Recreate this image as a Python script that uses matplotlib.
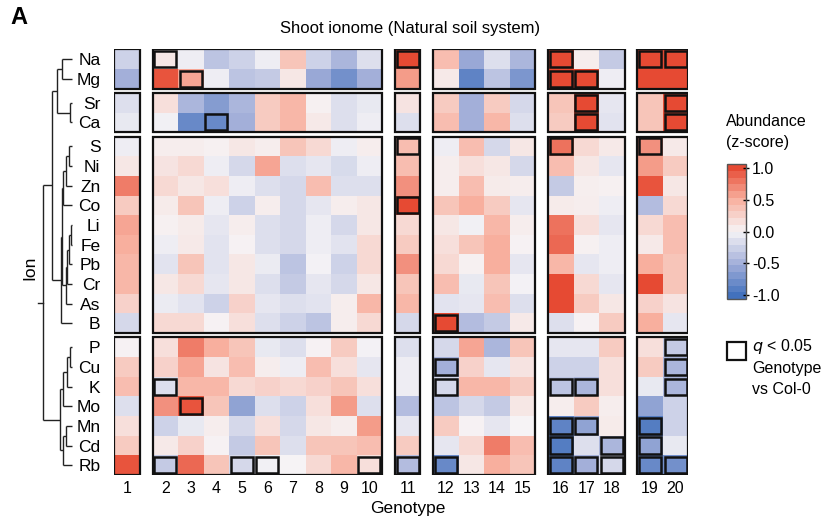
import numpy as np
import matplotlib
matplotlib.use('Agg')
import matplotlib.pyplot as plt
from matplotlib.colors import LinearSegmentedColormap, Normalize
from matplotlib.patches import Rectangle
from matplotlib.cm import ScalarMappable

plt.rcParams['font.family'] = ['Liberation Sans', 'DejaVu Sans']

# ---------------- data ----------------
ions = ['Na', 'Mg', 'Sr', 'Ca', 'S', 'Ni', 'Zn', 'Co', 'Li', 'Fe', 'Pb', 'Cr',
        'As', 'B', 'P', 'Cu', 'K', 'Mo', 'Mn', 'Cd', 'Rb']
genotypes = [str(i) for i in range(1, 21)]

#       1     2     3     4     5     6     7     8     9     10    11    12    13    14    15    16    17    18    19    20
na = [-0.25, 0.10, -0.05, -0.35, -0.25, -0.05, 0.35, -0.25, -0.45, -0.15, 1.00, 0.40, -0.55, -0.15, -0.45, 1.00, 0.05, -0.30, 1.00, 1.00]
mg = [-0.50, 0.95, 0.55, -0.05, -0.35, -0.30, 0.10, -0.55, -0.75, -0.50, 0.60, 0.08, -0.85, -0.35, -0.70, 1.00, 1.00, -0.05, 1.00, 1.00]
sr = [-0.15, 0.15, -0.45, -0.65, -0.45, 0.30, 0.45, 0.03, -0.15, -0.08, 0.12, 0.30, -0.50, 0.30, -0.20, 0.35, 1.00, -0.10, 0.35, 1.00]
ca = [-0.08, -0.03, -0.80, -0.80, -0.50, 0.30, 0.45, 0.08, -0.15, -0.05, -0.15, 0.40, -0.50, 0.45, -0.15, 0.30, 1.00, -0.12, 0.35, 1.00]
s_ = [-0.05, 0.05, 0.05, 0.03, 0.10, 0.05, 0.35, 0.20, -0.05, 0.05, 0.40, -0.05, 0.40, -0.20, 0.10, 0.80, 0.20, 0.08, 0.65, 0.08]
ni = [0.10, 0.12, 0.20, -0.05, -0.20, 0.55, -0.15, -0.10, -0.18, -0.05, 0.40, 0.05, 0.15, 0.10, -0.20, 0.40, 0.10, -0.10, 0.60, 0.30]
zn = [0.75, 0.20, 0.10, 0.15, -0.05, -0.15, -0.20, 0.40, -0.15, -0.15, 0.65, 0.05, 0.40, 0.07, 0.05, -0.30, 0.04, 0.03, 0.95, 0.10]
co = [0.30, 0.07, 0.35, -0.05, -0.25, 0.05, -0.20, -0.10, 0.05, 0.10, 1.00, 0.35, 0.50, 0.30, -0.10, 0.07, 0.05, -0.05, -0.40, 0.20]
li = [0.55, 0.03, 0.07, -0.10, 0.05, -0.15, -0.20, -0.05, -0.20, 0.10, 0.20, 0.10, -0.03, 0.45, 0.05, 0.80, 0.15, -0.10, 0.20, 0.40]
fe = [0.50, -0.05, 0.08, -0.12, 0.02, -0.15, -0.20, -0.05, -0.12, 0.20, 0.30, 0.15, 0.35, 0.50, 0.02, 0.85, 0.03, -0.05, 0.08, 0.40]
pb = [0.45, -0.12, 0.35, -0.12, 0.10, -0.07, -0.35, -0.02, -0.25, 0.20, 0.65, 0.20, 0.03, 0.50, -0.10, 0.45, -0.10, -0.05, 0.50, 0.35]
cr = [0.45, 0.10, 0.20, -0.10, 0.10, -0.15, -0.30, -0.10, -0.20, 0.10, 0.35, 0.40, -0.08, 0.35, -0.02, 1.00, 0.20, -0.10, 1.00, 0.35]
as_ = [0.25, -0.07, -0.12, -0.25, 0.25, -0.10, -0.15, -0.12, 0.05, 0.45, 0.45, -0.12, -0.10, 0.40, -0.15, 1.00, 0.30, 0.10, 0.25, 0.12]
b_ = [-0.20, 0.20, 0.20, 0.02, 0.15, -0.15, -0.25, -0.35, 0.05, 0.20, -0.20, 1.00, -0.40, -0.30, 0.08, -0.15, 0.02, 0.30, 0.50, -0.10]
p_ = [0.02, 0.15, 0.75, 0.50, 0.35, -0.08, -0.15, 0.02, 0.30, -0.02, -0.15, -0.20, 0.55, -0.45, 0.35, -0.10, -0.10, 0.30, 0.15, -0.30]
cu = [0.30, 0.25, 0.55, 0.12, 0.40, 0.05, -0.05, 0.40, 0.15, -0.10, -0.05, -0.50, 0.25, -0.10, 0.12, -0.25, -0.25, 0.15, 0.30, -0.45]
k_ = [0.40, -0.15, 0.45, 0.45, 0.20, 0.25, 0.20, 0.25, 0.35, 0.15, -0.05, -0.20, 0.45, 0.45, 0.30, -0.35, -0.45, 0.15, -0.08, -0.45]
mo = [-0.15, 0.65, 0.95, 0.35, -0.60, -0.15, -0.25, 0.15, 0.60, -0.15, -0.40, -0.35, -0.20, -0.30, 0.10, 0.05, 0.30, 0.05, -0.60, -0.25]
mn = [0.15, -0.25, -0.08, 0.05, -0.20, 0.15, -0.20, 0.10, 0.05, 0.60, -0.10, 0.30, 0.02, -0.10, 0.00, -0.85, -0.60, 0.07, -0.90, -0.25]
cd = [0.30, 0.08, 0.25, 0.02, -0.30, 0.35, -0.15, 0.35, 0.35, 0.40, 0.30, -0.10, 0.20, 0.75, 0.40, -0.90, -0.15, -0.45, -0.60, -0.08]
rb = [0.95, -0.30, 0.85, 0.35, -0.20, -0.03, 0.00, 0.20, 0.45, 0.15, -0.40, -0.80, 0.10, 0.50, 0.35, -0.85, -0.50, -0.20, -0.80, -0.75]

# significant cells (q < 0.05), genotypes per ion
sig_cells = [
    ('Na', [2, 11, 16, 19, 20]),
    ('Mg', [3, 16, 17]),
    ('Sr', [17, 20]),
    ('Ca', [4, 17, 20]),
    ('S', [11, 16, 19]),
    ('Co', [11]),
    ('B', [12]),
    ('P', [20]),
    ('Cu', [12, 20]),
    ('K', [2, 12, 16, 17, 20]),
    ('Mo', [3]),
    ('Mn', [16, 17, 19]),
    ('Cd', [16, 18, 19]),
    ('Rb', [2, 5, 6, 10, 11, 12, 16, 17, 18, 19, 20]),
]

col_groups = [1, 9, 1, 4, 3, 2]
row_groups = [2, 2, 10, 7]

z = np.array([na, mg, sr, ca, s_, ni, zn, co, li, fe, pb, cr, as_, b_,
              p_, cu, k_, mo, mn, cd, rb])

# ---------------- layout helpers ----------------
def layout(groups, gap):
    starts, blocks, pos, idx = [], [], 0.0, 0
    for g in groups:
        blocks.append((pos, pos + g, idx, idx + g))
        starts += [pos + i for i in range(g)]
        pos += g + gap
        idx += g
    return np.array(starts), blocks, pos - gap

xgap, ygap = 0.5, 0.22
xs, xblocks, xtot = layout(col_groups, xgap)
ys, yblocks, ytot = layout(row_groups, ygap)

cmap = LinearSegmentedColormap.from_list(
    'bwr_custom',
    [(0.0, '#4271bd'), (0.25, '#a3afd9'), (0.5, '#f6f4f6'),
     (0.75, '#f8b09f'), (1.0, '#e64a33')])
norm = Normalize(-1, 1)

W, H = 834, 522
fig = plt.figure(figsize=(W / 100, H / 100), dpi=100)

def fx(px):
    return px / W

def fy(py):
    return 1 - py / H

hx0, hx1, hy0, hy1 = 114.3, 688.3, 49.3, 475.0
ax = fig.add_axes([fx(hx0), fy(hy1), fx(hx1) - fx(hx0), fy(hy0) - fy(hy1)])

for (x0, x1, c0, c1) in xblocks:
    for (y0, y1, r0, r1) in yblocks:
        sub = z[r0:r1, c0:c1]
        X = x0 + np.arange(c1 - c0 + 1)
        Y = y0 + np.arange(r1 - r0 + 1)
        ax.pcolormesh(X, Y, sub, cmap=cmap, norm=norm, shading='flat')
        ax.add_patch(Rectangle((x0, y0), x1 - x0, y1 - y0, fill=False,
                               ec='#111111', lw=1.6, zorder=5))

insx, insy = 0.07, 0.09
for ion, gts in sig_cells:
    r = ions.index(ion)
    for g in gts:
        c = g - 1
        ax.add_patch(Rectangle((xs[c] + insx, ys[r] + insy), 1 - 2 * insx, 1 - 2 * insy,
                               fill=False, ec='#111111', lw=1.8, zorder=6))

ax.set_xlim(0, xtot)
ax.set_ylim(ytot, 0)
ax.set_xticks(xs + 0.5)
ax.set_xticklabels(genotypes, fontsize=11.5)
ax.set_yticks(ys + 0.5)
ax.set_yticklabels(ions, fontsize=12.5)
ax.tick_params(length=0, pad=4)
ax.tick_params(axis='y', pad=10)
for sp in ax.spines.values():
    sp.set_visible(False)

# ---------------- dendrogram ----------------
dax = fig.add_axes([0, fy(hy1), 1, fy(hy0) - fy(hy1)])
dax.set_xlim(0, W)
dax.set_ylim(ytot, 0)
dax.axis('off')
dax.patch.set_alpha(0)

# pixel-scale join heights
A = (56.7, (62.3, 'Na', 'Mg'), (70.0, 'Sr', 'Ca'))
B1 = (63.3, (66.0, (69.3, 'S', 'Ni'), 'Zn'), 'Co')
B2 = (66.0, (67.3, (69.3, (70.7, 'Li', 'Fe'), 'Pb'), 'Cr'), 'As')
Bc = (60.7, (62.3, B1, B2), 'B')
AB = (51.7, A, Bc)
C1 = (63.3, (66.7, (70.0, 'P', 'Cu'), 'K'), 'Mo')
C2 = (63.3, (66.0, 'Mn', 'Cd'), 'Rb')
Cc = (60.0, C1, C2)
root = (43.3, AB, Cc)
leaf_x = 72.5

def draw(node):
    if isinstance(node, str):
        r = ions.index(node)
        return leaf_x, ys[r] + 0.5
    x, left, right = node
    xl, yl = draw(left)
    xr, yr = draw(right)
    kw = dict(color='#222222', lw=1.0, solid_capstyle='butt')
    dax.plot([x, xl], [yl, yl], **kw)
    dax.plot([x, xr], [yr, yr], **kw)
    dax.plot([x, x], [yl, yr], **kw)
    return x, (yl + yr) / 2

rx, ry = draw(root)
dax.plot([38.5, rx], [ry, ry], color='#222222', lw=1.0)

# ---------------- texts ----------------
fig.text(fx(10), fy(18), 'A', fontsize=17, fontweight='bold', ha='left', va='center')
fig.text(fx(410), fy(28), 'Shoot ionome (Natural soil system)', fontsize=12,
         ha='center', va='center')
fig.text(fx(30), fy(268), 'Ion', fontsize=12.5, rotation=90, ha='center', va='center')
fig.text(fx(408), fy(509), 'Genotype', fontsize=12.5, ha='center', va='center')

# ---------------- colorbar ----------------
fig.text(fx(726), fy(121), 'Abundance', fontsize=11.5, ha='left', va='center')
fig.text(fx(726), fy(143), '(z-score)', fontsize=11.5, ha='left', va='center')
cax = fig.add_axes([fx(726.7), fy(299), fx(745.7) - fx(726.7), fy(164) - fy(299)])
cb_norm = Normalize(-1.063, 1.063)
sm = ScalarMappable(norm=cb_norm, cmap=cmap.resampled(20))
cb = fig.colorbar(sm, cax=cax, ticks=[-1, -0.5, 0, 0.5, 1])
cb.ax.set_yticklabels(['-1.0', '-0.5', '0.0', '0.5', '1.0'], fontsize=11.5)
cb.ax.tick_params(length=5, direction='inout', width=1, pad=2)
cb.outline.set_linewidth(1.0)
cb.outline.set_edgecolor('#555555')

# ---------------- significance legend ----------------
fig.patches.append(Rectangle((fx(726.7), fy(360)), fx(745.7) - fx(726.7), fy(341.7) - fy(360),
                             transform=fig.transFigure, fill=False, ec='#111111', lw=1.6))
fig.text(fx(752), fy(346), r'$q$ < 0.05', fontsize=11.5, ha='left', va='center')
fig.text(fx(752), fy(368), 'Genotype', fontsize=11.5, ha='left', va='center')
fig.text(fx(752), fy(389), 'vs Col-0', fontsize=11.5, ha='left', va='center')

fig.savefig('out.png', dpi=100)
